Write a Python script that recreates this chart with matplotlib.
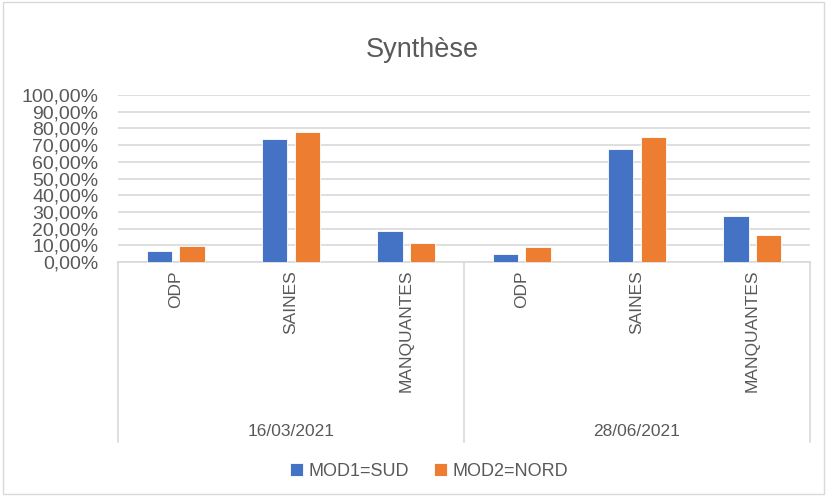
import matplotlib
matplotlib.use("Agg")
import matplotlib.pyplot as plt
import numpy as np
from matplotlib.patches import Rectangle
from matplotlib.ticker import FuncFormatter

# --- data ---
dates = ["16/03/2021", "28/06/2021"]
categories = ["ODP", "SAINES", "MANQUANTES"]
series_names = ["MOD1=SUD", "MOD2=NORD"]
mod1_sud = [0.068, 0.735, 0.186, 0.048, 0.677, 0.275]
mod2_nord = [0.096, 0.781, 0.114, 0.090, 0.749, 0.162]

BLUE = "#4472C4"
ORANGE = "#ED7D31"
GRID = "#D9D9D9"
TEXT = "#595959"

plt.rcParams["font.family"] = ["Liberation Sans", "DejaVu Sans"]

W, H = 827, 497
fig = plt.figure(figsize=(W / 100, H / 100), dpi=100)
fig.patches.append(Rectangle((0.004, 0.006), 0.992, 0.99, transform=fig.transFigure,
                             fill=False, edgecolor=GRID, lw=1))

# plot area in pixel coordinates
left, right, top, bottom = 118, 810, 95, 262
ax = fig.add_axes([left / W, 1 - bottom / H, (right - left) / W, (bottom - top) / H])

n = len(mod1_sud)
x = np.arange(n)
bw = 0.22
gap = 0.065
ax.bar(x - (bw + gap) / 2, mod1_sud, bw, color=BLUE, edgecolor="white", lw=0.6,
       label=series_names[0], zorder=3)
ax.bar(x + (bw + gap) / 2, mod2_nord, bw, color=ORANGE, edgecolor="white", lw=0.6,
       label=series_names[1], zorder=3)

ax.set_xlim(-0.5, n - 0.5)
ax.set_ylim(0, 1.0)
ax.set_yticks(np.arange(0, 1.01, 0.1))
ax.yaxis.set_major_formatter(FuncFormatter(lambda v, _: f"{v * 100:.2f}%".replace(".", ",")))
ax.tick_params(axis="y", length=0, labelsize=14, labelcolor=TEXT, pad=14)
ax.grid(axis="y", color=GRID, lw=1.2, zorder=0)
ax.set_xticks([])
for s in ["left", "right", "top"]:
    ax.spines[s].set_visible(False)
ax.spines["bottom"].set_color(GRID)
ax.spines["bottom"].set_linewidth(1.2)

# --- two-level category axis drawn below the plot ---
tr = ax.get_xaxis_transform()
px = 1 / (bottom - top)          # one pixel in axes-fraction units
for i in range(n):
    ax.text(x[i], -8 * px, categories[i % 3], rotation=90, ha="center", va="top",
            fontsize=12.5, color=TEXT, transform=tr)
for g, d in enumerate(dates):
    ax.text(3 * g + 1, -170 * px, d, ha="center", va="center",
            fontsize=12.5, color=TEXT, transform=tr)
for xd in [-0.5, 2.5, 5.5]:
    ax.plot([xd, xd], [0, -180 * px], color=GRID, lw=1.2, transform=tr, clip_on=False)

fig.text(422 / W, 1 - 50 / H, "Synthèse", ha="center", va="center", fontsize=19.5, color=TEXT)

fig.legend(loc="center", bbox_to_anchor=(429 / W, 1 - 471 / H), ncol=2, frameon=False,
           fontsize=13, labelcolor=TEXT, handlelength=0.7, handleheight=0.7,
           handletextpad=0.3, columnspacing=1.4)

fig.savefig("out.png", dpi=100, facecolor="white")
